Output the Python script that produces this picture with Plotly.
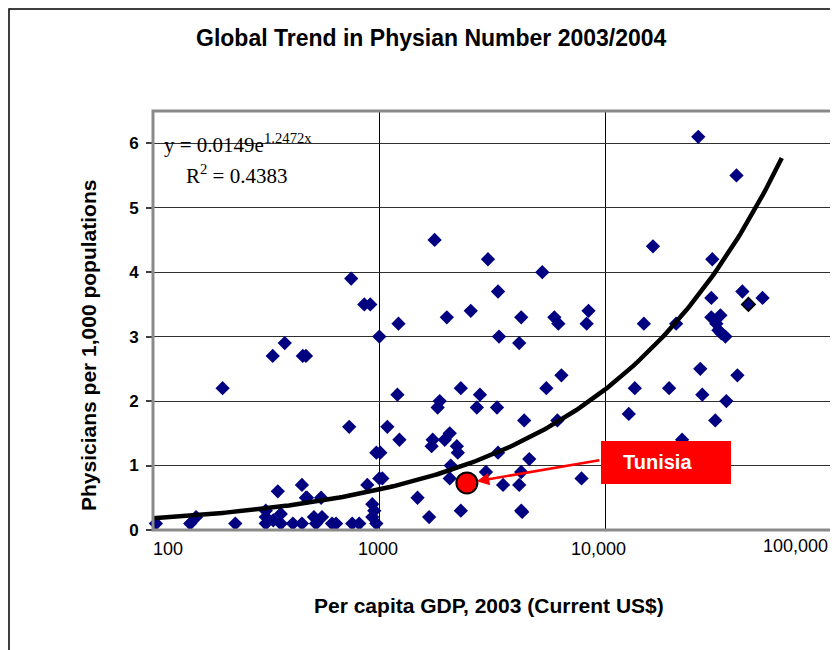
import numpy as np
import plotly.graph_objects as go

# ---------------- data ----------------
gdp = [751, 858, 912, 1000, 382, 338, 459, 474, 203, 736, 1085, 970, 1010, 1000, 1031,
       885, 455, 356, 474, 479, 553, 1475, 1660, 931, 950, 931, 970,
       315, 315, 315, 367, 367, 340, 415, 455, 514, 558, 525, 618, 644, 759, 815,
       231, 146, 155, 103,
       1215, 3379, 4150, 6374, 5470, 1202, 1848, 1810, 2291, 2783, 2697, 3311, 4365, 6119,
       1227, 1721, 1702, 2047, 1945, 2200, 2222, 3345, 4596, 2069, 2047, 2958, 4236, 3522,
       4150, 7822, 2291, 4236, 4279,
       1755, 3020, 5248, 3345, 2535, 1987, 4236, 5933, 6180, 8400, 8241,
       25650, 37840, 16180, 29590, 40180, 49340, 29300, 14750, 20480, 29300, 32130, 30830,
       31480, 32460, 33810, 26180, 38200, 13450, 19070, 26730, 34140, 12650, 30490, 21760]
physicians = [3.9, 3.5, 3.5, 3.0, 2.9, 2.7, 2.7, 2.7, 2.2, 1.6, 1.6, 1.2, 1.2, 0.8, 0.8,
              0.7, 0.7, 0.6, 0.5, 0.5, 0.5, 0.5, 0.2, 0.4, 0.3, 0.2, 0.1,
              0.3, 0.2, 0.1, 0.25, 0.1, 0.15, 0.1, 0.1, 0.2, 0.2, 0.1, 0.1, 0.1, 0.1, 0.1,
              0.1, 0.1, 0.2, 0.1,
              3.2, 3.0, 2.9, 2.4, 2.2, 2.1, 2.0, 1.9, 2.2, 2.1, 1.9, 1.9, 1.7, 1.7,
              1.4, 1.4, 1.3, 1.5, 1.4, 1.3, 1.2, 1.2, 1.1, 1.0, 0.8, 0.9, 0.9, 0.7,
              0.7, 0.8, 0.3, 0.3, 0.28,
              4.5, 4.2, 4.0, 3.7, 3.4, 3.3, 3.3, 3.3, 3.2, 3.4, 3.2,
              6.1, 5.5, 4.4, 4.2, 3.7, 3.6, 3.6, 3.2, 3.2, 3.3, 3.33, 3.2,
              3.1, 3.05, 3.0, 2.5, 2.4, 2.2, 2.2, 2.1, 2.0, 1.8, 1.7, 1.4]

highlight_gdp = [42740]
highlight_phys = [3.5]

tunisia_gdp = [2437]
tunisia_phys = [0.73]

# exponential trend shown on the chart: y = a * e^(b * log10(GDP))
trend_a = 0.0149
trend_b = 1.2472
trend_gdp_range = [100, 60000]

x_tick_values = [100, 1000, 10000, 100000]
x_tick_text = ["100", "1000", "10,000", "100,000"]

# ---------------- figure ----------------
# The page has an 8px body margin, so the figure is sized to end at the window edge.
OFF = 8
W, H = 838 - OFF, 650 - OFF
L, R, T, B = 145, 6, 103, 120
pw, ph = W - L - R, H - T - B


def px(xp):  # page pixel x -> paper coordinate
    return (xp - OFF - L) / pw


def py(yp):  # page pixel y -> paper coordinate
    return (H - B - (yp - OFF)) / ph


navy = "#000080"
fig = go.Figure()

fig.add_trace(go.Scatter(
    x=gdp, y=physicians, mode="markers",
    marker=dict(symbol="diamond", size=11, color=navy, line=dict(width=0)),
    showlegend=False, cliponaxis=False))

tx = np.logspace(np.log10(trend_gdp_range[0]), np.log10(trend_gdp_range[1]), 200)
ty = trend_a * np.exp(trend_b * np.log10(tx))
fig.add_trace(go.Scatter(x=tx, y=ty, mode="lines",
                         line=dict(color="black", width=4.5), showlegend=False))

fig.add_trace(go.Scatter(
    x=highlight_gdp, y=highlight_phys, mode="markers",
    marker=dict(symbol="diamond", size=10, color=navy, line=dict(color="black", width=2)),
    showlegend=False))

fig.add_trace(go.Scatter(
    x=tunisia_gdp, y=tunisia_phys, mode="markers",
    marker=dict(symbol="circle", size=21, color="#ff0000", line=dict(color="black", width=2)),
    showlegend=False))

sans = "Liberation Sans, Arial, sans-serif"
serif = "Liberation Serif, Times New Roman, serif"

fig.update_layout(
    width=W, height=H,
    margin=dict(l=L, r=R, t=T, b=B),
    paper_bgcolor="white", plot_bgcolor="white",
    font=dict(family=sans, color="black"),
    xaxis=dict(type="log", range=[2, 5], tickvals=x_tick_values, ticktext=x_tick_text,
               showticklabels=False, ticks="", showgrid=True, gridcolor="black",
               gridwidth=1, zeroline=False, showline=False),
    yaxis=dict(range=[0, 6.5], tick0=0, dtick=1, showgrid=True, gridcolor="#303030",
               gridwidth=1, zeroline=False, ticks="outside", ticklen=6, tickcolor="#404040",
               tickwidth=1.5, ticklabelstandoff=4,
               tickfont=dict(family=sans, size=17, weight="bold", color="black"),
               showline=False),
)

shapes = [
    # plot area border
    dict(type="rect", xref="paper", yref="paper", x0=0, x1=1, y0=0, y1=1,
         line=dict(color="#8a8a8a", width=3), layer="above"),
    # outer chart frame
    dict(type="rect", xref="paper", yref="paper", x0=px(9), x1=px(835), y0=py(670), y1=py(9),
         line=dict(color="black", width=1.5), layer="above"),
    # label box
    dict(type="rect", xref="paper", yref="paper", x0=px(601), x1=px(731), y0=py(484), y1=py(441),
         line=dict(width=0), fillcolor="#ff0000", layer="above"),
]
fig.update_layout(shapes=shapes)

ann = []
# title
ann.append(dict(text="<b>Global Trend in Physian Number 2003/2004</b>", xref="paper", yref="paper",
                x=px(431), y=py(38), showarrow=False, xanchor="center", yanchor="middle",
                font=dict(family=sans, size=23, color="black")))
# axis titles
ann.append(dict(text="<b>Physicians per 1,000 populations</b>", xref="paper", yref="paper",
                x=px(88), y=py(346), showarrow=False, textangle=-90, xanchor="center",
                yanchor="middle", font=dict(family=sans, size=21, color="black")))
ann.append(dict(text="<b>Per capita GDP, 2003 (Current US$)</b>", xref="paper", yref="paper",
                x=px(489), y=py(605), showarrow=False, xanchor="center", yanchor="middle",
                font=dict(family=sans, size=21, color="black")))
# x tick labels (placed as in the reference)
tick_pos = [(168, 549), (378, 549), (598, 549), (795, 546)]
for t, (xp_, yp_) in zip(x_tick_text, tick_pos):
    ann.append(dict(text=t, xref="paper", yref="paper", x=px(xp_), y=py(yp_), showarrow=False,
                    xanchor="center", yanchor="middle", font=dict(family=sans, size=18, color="black")))
# trend equation
ann.append(dict(text="y = 0.0149e<sup>1.2472x</sup>", xref="paper", yref="paper",
                x=px(162), y=py(143), showarrow=False, xanchor="left", yanchor="middle",
                font=dict(family=serif, size=21, color="black")))
ann.append(dict(text="R<sup>2</sup> = 0.4383", xref="paper", yref="paper",
                x=px(184), y=py(174), showarrow=False, xanchor="left", yanchor="middle",
                font=dict(family=serif, size=21, color="black")))
# arrow to Tunisia (tail offset in pixels relative to the point)
ann.append(dict(text="", x=np.log10(tunisia_gdp[0]), y=tunisia_phys[0], xref="x", yref="y",
                showarrow=True, ax=134, ay=-23,
                arrowhead=2, arrowsize=1, arrowwidth=2.5, arrowcolor="#ff0000", standoff=10))
ann.append(dict(text="<b>Tunisia</b>", xref="paper", yref="paper", x=px(657), y=py(462),
                showarrow=False, xanchor="center", yanchor="middle",
                font=dict(family=sans, size=20, color="white")))
fig.update_layout(annotations=ann)

fig.write_html("out.html")
